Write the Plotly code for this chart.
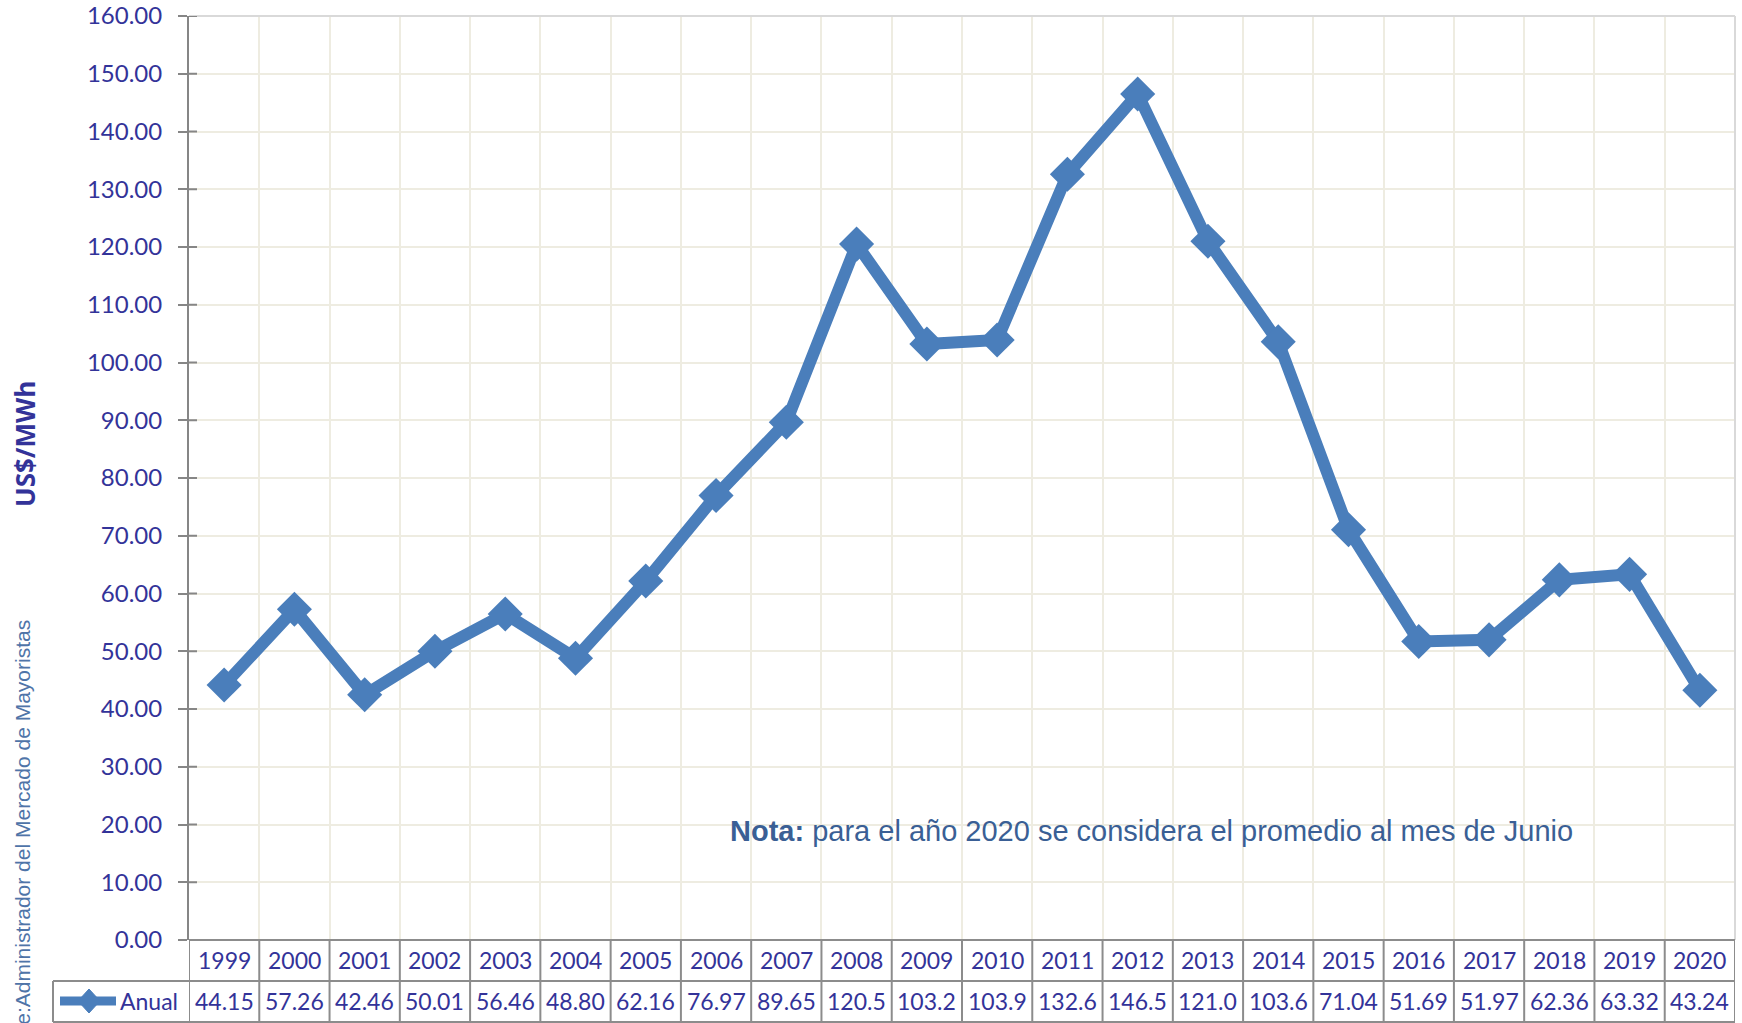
import plotly.graph_objects as go

years = ["1999", "2000", "2001", "2002", "2003", "2004", "2005", "2006", "2007", "2008", "2009",
         "2010", "2011", "2012", "2013", "2014", "2015", "2016", "2017", "2018", "2019", "2020"]
anual = [44.15, 57.26, 42.46, 50.01, 56.46, 48.80, 62.16, 76.97, 89.65, 120.5, 103.2,
         103.9, 132.6, 146.5, 121.0, 103.6, 71.04, 51.69, 51.97, 62.36, 63.32, 43.24]
y_ticks = [0, 10, 20, 30, 40, 50, 60, 70, 80, 90, 100, 110, 120, 130, 140, 150, 160]
series_name = "Anual"
y_title = "US$/MWh"
source_text = "Fuente:Administrador del Mercado de Mayoristas"
note_text = "<b>Nota:</b> para el año 2020 se considera el promedio al mes de Junio"

W, H = 1742, 1023
L, R, T, B = 189, 7, 16, 83
PW, PH = W - L - R, H - T - B

def px(x):
    return (x - L) / PW

def py(y):
    return (H - B - y) / PH

LINE_COL = "#4A7EBB"
TXT_COL = "#333399"
TABLE_COL = "#8C8C8C"
AXIS_COL = "#868686"
GRID_COL = "#EEECE1"
TABLE_FONT = "Lato"

def fmt(v):
    return f"{v:.1f}" if v >= 100 else f"{v:.2f}"

fig = go.Figure()
fig.add_trace(go.Scatter(
    x=years, y=anual, mode="lines+markers", name=series_name,
    line=dict(color=LINE_COL, width=12),
    marker=dict(symbol="diamond", size=27, color=LINE_COL),
    showlegend=False, cliponaxis=False, hoverinfo="skip",
))

shapes = []
annotations = []

# plot border (top and right)
shapes.append(dict(type="line", xref="paper", yref="paper", x0=0, x1=1, y0=1, y1=1,
                   line=dict(color="#D9D9D9", width=2)))
shapes.append(dict(type="line", xref="paper", yref="paper", x0=1, x1=1, y0=0, y1=1,
                   line=dict(color="#D9D9D9", width=2)))

# inner half of the y tick marks (ticks cross the axis)
for t in y_ticks:
    shapes.append(dict(type="line", xref="paper", yref="y", x0=0, x1=px(L + 8), y0=t, y1=t,
                       line=dict(color=AXIS_COL, width=2)))

# data table
row1 = py(981)
row2 = py(1022)
leg_left = px(53)
shapes.append(dict(type="line", xref="paper", yref="paper", x0=0, x1=1, y0=0, y1=0,
                   line=dict(color=TABLE_COL, width=2)))
for yy in (row1, row2):
    shapes.append(dict(type="line", xref="paper", yref="paper", x0=leg_left, x1=1, y0=yy, y1=yy,
                       line=dict(color=TABLE_COL, width=2)))
shapes.append(dict(type="line", xref="paper", yref="paper", x0=leg_left, x1=leg_left, y0=row2, y1=row1,
                   line=dict(color=TABLE_COL, width=2)))
for k in range(len(years) + 1):
    shapes.append(dict(type="line", xref="x", yref="paper", x0=k - 0.5, x1=k - 0.5, y0=row2, y1=0,
                       line=dict(color=TABLE_COL, width=2)))

for i, (yr, v) in enumerate(zip(years, anual)):
    annotations.append(dict(x=i, y=(0 + row1) / 2, xref="x", yref="paper", text=yr,
                            showarrow=False, font=dict(family=TABLE_FONT, size=23, color=TXT_COL),
                            xanchor="center", yanchor="middle"))
    annotations.append(dict(x=i, y=(row1 + row2) / 2, xref="x", yref="paper", text=fmt(v),
                            showarrow=False, font=dict(family=TABLE_FONT, size=23, color=TXT_COL),
                            xanchor="center", yanchor="middle"))

# legend key in the table
ly = py(1001)
shapes.append(dict(type="line", xref="paper", yref="paper", x0=px(60), x1=px(116), y0=ly, y1=ly,
                   line=dict(color=LINE_COL, width=9)))
cx, cy, hw, hh = 89, 1001, 11, 12
path = (f"M {px(cx - hw)} {py(cy)} L {px(cx)} {py(cy - hh)} "
        f"L {px(cx + hw)} {py(cy)} L {px(cx)} {py(cy + hh)} Z")
shapes.append(dict(type="path", xref="paper", yref="paper", path=path,
                   fillcolor=LINE_COL, line=dict(color=LINE_COL, width=1)))
annotations.append(dict(x=px(118), y=ly, xref="paper", yref="paper", text=series_name,
                        showarrow=False, xanchor="left", yanchor="middle",
                        font=dict(family=TABLE_FONT, size=23, color=TXT_COL)))

# y title
annotations.append(dict(x=px(25), y=py(444), xref="paper", yref="paper", text=f"<b>{y_title}</b>",
                        textangle=-90, showarrow=False, xanchor="center", yanchor="middle",
                        font=dict(family="Open Sans", size=26, color=TXT_COL)))
# source
annotations.append(dict(x=px(22), y=py(618), xref="paper", yref="paper", text=source_text,
                        textangle=-90, showarrow=False, xanchor="center", yanchor="top",
                        font=dict(family="Liberation Sans", size=21, color="#4F74A8")))
# note
annotations.append(dict(x=px(728), y=py(831), xref="paper", yref="paper", text=note_text,
                        showarrow=False, xanchor="left", yanchor="middle",
                        font=dict(family="Liberation Sans", size=29, color="#3A5F95")))

fig.update_layout(
    width=W, height=H,
    margin=dict(l=L, r=R, t=T, b=B, pad=0, autoexpand=False),
    paper_bgcolor="white", plot_bgcolor="white",
    shapes=shapes, annotations=annotations,
    xaxis=dict(type="category", range=[-0.5, len(years) - 0.5], showgrid=True,
               gridcolor=GRID_COL, gridwidth=2, tickson="boundaries", automargin=False,
               showticklabels=False, ticks="", showline=False, zeroline=False, fixedrange=True),
    yaxis=dict(range=[0, 160], tickvals=y_ticks, tickformat=".2f", showgrid=True, automargin=False,
               gridcolor=GRID_COL, gridwidth=2, showline=True, linecolor=AXIS_COL, linewidth=2,
               ticks="outside", ticklen=9, tickwidth=2, tickcolor=AXIS_COL,
               ticklabelstandoff=11, zeroline=False, fixedrange=True,
               tickfont=dict(family=TABLE_FONT, size=24, color=TXT_COL)),
)

fig.write_html("out.html", config={"displayModeBar": False},
               post_script="document.body.style.margin='0';document.body.style.overflow='hidden';")
